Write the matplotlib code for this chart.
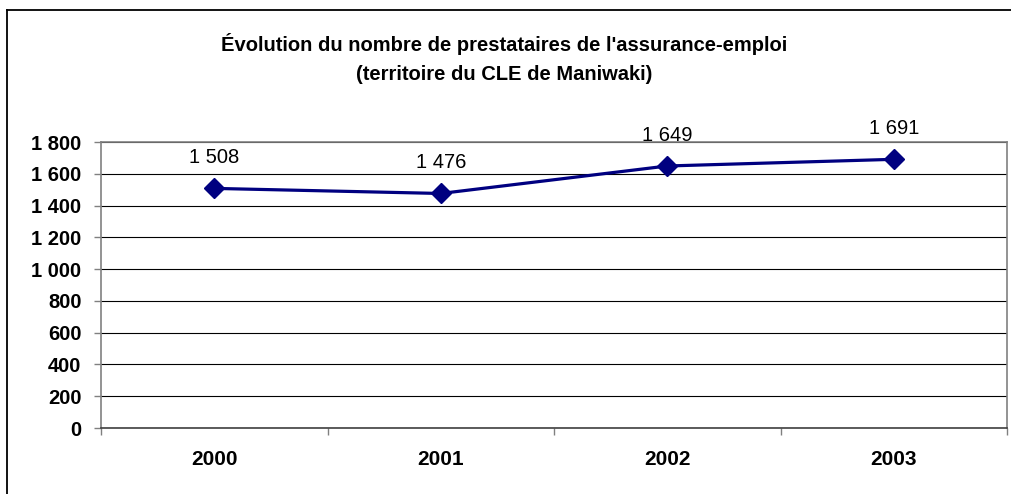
import matplotlib
matplotlib.use("Agg")
import matplotlib.pyplot as plt
from matplotlib.lines import Line2D
from matplotlib.ticker import FuncFormatter, FixedLocator

plt.rcParams['font.family'] = ['Liberation Sans', 'DejaVu Sans']

years = ["2000", "2001", "2002", "2003"]
prestataires = [1508, 1476, 1649, 1691]
y_ticks = list(range(0, 1801, 200))

W, H = 1011, 494
fig = plt.figure(figsize=(W / 100, H / 100), dpi=100)
ax = fig.add_axes([101 / W, 1 - 428 / H, (1007 - 101) / W, (428 - 142) / H])

x = list(range(len(years)))
ax.plot(x, prestataires, color="#000080", lw=2.3, marker="D", ms=10.5,
        solid_joinstyle="miter", zorder=3)

for xi, v in zip(x, prestataires):
    lab = f"{v:,}".replace(",", " ")
    ax.annotate(lab, (xi, v), xytext=(0, 22), textcoords="offset points",
                ha="center", va="center", fontsize=14.5, color="black")

ax.set_xlim(-0.5, len(years) - 0.5)
ax.set_ylim(0, 1800)
ax.set_yticks(y_ticks)
ax.yaxis.set_major_formatter(FuncFormatter(lambda v, p: f"{int(v):,}".replace(",", " ")))
ax.grid(axis="y", color="black", lw=0.8)
ax.set_axisbelow(True)

ax.set_xticks(x)
ax.set_xticklabels(years, fontweight="bold", fontsize=15)
ax.xaxis.set_minor_locator(FixedLocator([i - 0.5 for i in range(len(years) + 1)]))
ax.tick_params(axis="x", which="major", length=0, pad=16)
ax.tick_params(axis="x", which="minor", length=5, color="#808080", width=1)
ax.tick_params(axis="y", length=5, color="#808080", width=1, labelsize=14.5, pad=9)
for t in ax.get_yticklabels():
    t.set_fontweight("bold")

for s in ["left", "top", "right"]:
    ax.spines[s].set_color("#808080")
    ax.spines[s].set_linewidth(1.2)
ax.spines["bottom"].set_color("#404040")
ax.spines["bottom"].set_linewidth(1.2)

fig.text(504 / W, 1 - 44 / H, "Évolution du nombre de prestataires de l'assurance-emploi",
         ha="center", va="center", fontsize=14.5, fontweight="bold")
fig.text(504 / W, 1 - 74 / H, "(territoire du CLE de Maniwaki)",
         ha="center", va="center", fontsize=14.5, fontweight="bold")

# cadre du graphique (sort de l'image a droite et en bas)
fig.add_artist(Line2D([7 / W, 7 / W], [0, 1 - 10 / H], transform=fig.transFigure,
                      color="black", lw=1.3))
fig.add_artist(Line2D([7 / W, 1], [1 - 10 / H, 1 - 10 / H], transform=fig.transFigure,
                      color="black", lw=1.3))

fig.savefig("out.png", dpi=100)
